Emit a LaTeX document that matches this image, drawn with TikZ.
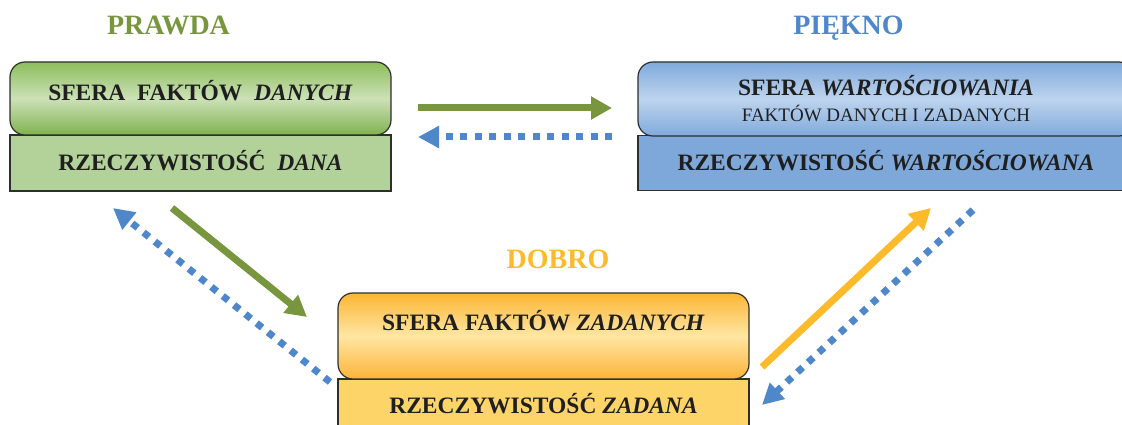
\documentclass[tikz,border=0pt]{standalone}
\usepackage{fontspec}
\setmainfont{Liberation Serif}
\usetikzlibrary{arrows.meta}

\definecolor{grn}{HTML}{77963E}
\definecolor{grnTop}{HTML}{8DBE5C}
\definecolor{grnMid}{HTML}{CCE1B7}
\definecolor{grnBot}{HTML}{80B24F}
\definecolor{grnRect}{HTML}{B3D29A}
\definecolor{blu}{HTML}{4F87CB}
\definecolor{bluTop}{HTML}{80AADC}
\definecolor{bluMid}{HTML}{BDD4EE}
\definecolor{bluBot}{HTML}{80AADC}
\definecolor{bluRect}{HTML}{7EA8DA}
\definecolor{ylw}{HTML}{FDBB2C}
\definecolor{ylwTop}{HTML}{FBB634}
\definecolor{ylwMid}{HTML}{FFE6A2}
\definecolor{ylwBot}{HTML}{FBB438}
\definecolor{ylwRect}{HTML}{FDD468}
\definecolor{edge}{HTML}{2E2E2E}

\tikzset{
  sphere/.style={draw=edge, line width=1.2pt, rounded corners=15pt, inner sep=0pt},
  realm/.style={draw=edge, line width=1.2pt, inner sep=0pt},
  boxtext/.style={anchor=base, font=\fontsize{23.5}{26}\selectfont\bfseries, inner sep=0pt, text=black!88},
  subtext/.style={anchor=base, font=\fontsize{19}{22}\selectfont, inner sep=0pt, text=black!88},
  heading/.style={anchor=base, font=\fontsize{28}{32}\selectfont\bfseries, inner sep=0pt},
  solidarrow/.style={line width=7pt, -{Triangle[length=21pt,width=22pt]}},
  dotarrow/.style={line width=7pt, color=blu, dash pattern=on 7pt off 7.5pt, -{Triangle[length=21pt,width=21pt]}}
}

\begin{document}
\begin{tikzpicture}[x=1pt,y=-1pt]
\useasboundingbox (0,0) rectangle (1122,425);
\clip (0,0) rectangle (1122,425);

% headings
\node[heading, text=grn] (prawda) at (168.5,35) {PRAWDA};
\node[heading, text=blu] (piekno) at (848.5,35) {PIĘKNO};
\node[heading, text=ylw] (dobro) at (558,268) {DOBRO};

% green block
\node[realm, fill=grnRect, minimum width=381pt, minimum height=56pt] (gR) at (200.5,163) {};
\node[sphere, top color=grnTop, bottom color=grnBot, middle color=grnMid,
      minimum width=381pt, minimum height=73pt] (gS) at (200.5,98.5) {};
\node[boxtext] (gSt) at (200.5,101) {SFERA\ \ FAKTÓW\ \ \textit{DANYCH}};
\node[boxtext] (gRt) at (200.5,171) {RZECZYWISTOŚĆ\ \ \textit{DANA}};

% blue block
\node[realm, fill=bluRect, minimum width=496pt, minimum height=55pt] (bR) at (886,163) {};
\node[sphere, top color=bluTop, bottom color=bluBot, middle color=bluMid,
      minimum width=496pt, minimum height=74pt] (bS) at (886,99) {};
\node[boxtext] (bSt) at (886,96) {SFERA \textit{WARTOŚCIOWANIA}};
\node[subtext] (bSt2) at (886,121.5) {FAKTÓW DANYCH I ZADANYCH};
\node[boxtext] (bRt) at (886,171) {RZECZYWISTOŚĆ \textit{WARTOŚCIOWANA}};

% yellow block
\node[realm, fill=ylwRect, minimum width=411pt, minimum height=61pt] (yR) at (543.5,409.5) {};
\node[sphere, top color=ylwTop, bottom color=ylwBot, middle color=ylwMid,
      minimum width=411pt, minimum height=86pt] (yS) at (543.5,336) {};
\node[boxtext] (ySt) at (543.5,330) {SFERA FAKTÓW \textit{ZADANYCH}};
\node[boxtext] (yRt) at (543.5,413) {RZECZYWISTOŚĆ \textit{ZADANA}};

% arrow end points
\coordinate (g2bA) at (418,108);
\coordinate (g2bB) at (612,108);
\coordinate (b2gA) at (612,137);
\coordinate (b2gB) at (418,137);
\coordinate (g2yA) at (172,208);
\coordinate (g2yB) at (307,317);
\coordinate (y2gA) at (330,382);
\coordinate (y2gB) at (113,208);
\coordinate (y2bA) at (762,367);
\coordinate (y2bB) at (931,208);
\coordinate (b2yA) at (973,210);
\coordinate (b2yB) at (762,405);

% arrows
\draw[solidarrow, grn] (g2bA) -- (g2bB);
\draw[dotarrow] (b2gA) -- (b2gB);
\draw[solidarrow, grn] (g2yA) -- (g2yB);
\draw[dotarrow] (y2gA) -- (y2gB);
\draw[solidarrow, ylw] (y2bA) -- (y2bB);
\draw[dotarrow] (b2yA) -- (b2yB);
\end{tikzpicture}
\end{document}
